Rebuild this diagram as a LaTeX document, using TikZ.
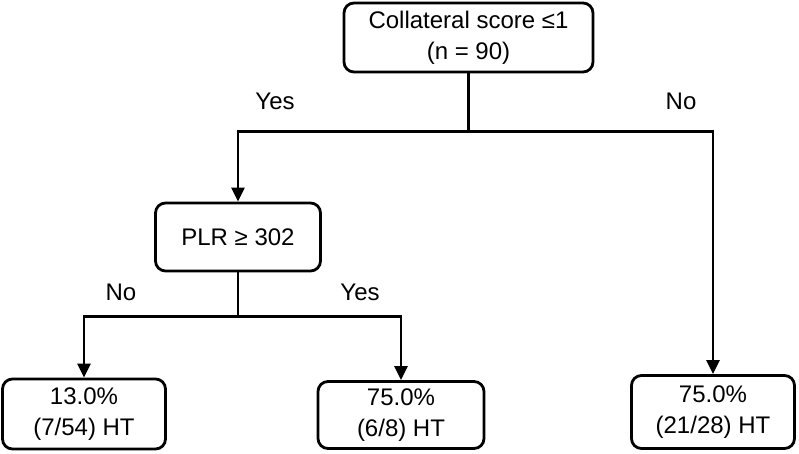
\documentclass[tikz,border=0pt]{standalone}
\usepackage{fontspec}
\setmainfont{Liberation Sans}
\usetikzlibrary{arrows.meta}

\tikzset{
  box/.style={draw, line width=2.8pt, rounded corners=10pt, align=center,
    inner sep=0pt, font=\fontsize{24}{31}\selectfont},
  conn/.style={line width=2.8pt},
  arr/.style={conn, -{Triangle[length=14pt,width=13pt]}},
  lbl/.style={font=\fontsize{24}{30}\selectfont}
}

\begin{document}
\begin{tikzpicture}[x=1pt, y=-1pt]
  \useasboundingbox (0,0) rectangle (799,453);

  % Root split
  \node[box, minimum width=249pt, minimum height=69pt] (root) at (468.5,37.5)
    {Collateral score ≤1\\(n = 90)};

  % Second split
  \node[box, minimum width=165pt, minimum height=68pt] (plr) at (238,237) {PLR ≥ 302};

  % Leaves
  \node[box, minimum width=163pt, minimum height=70pt] (leafa) at (84,414)
    {13.0\%\\(7/54) HT};
  \node[box, minimum width=166pt, minimum height=67pt] (leafb) at (401,415)
    {75.0\%\\(6/8) HT};
  \node[box, minimum width=163pt, minimum height=73pt] (leafc) at (713,412)
    {75.0\%\\(21/28) HT};

  % Connectors from root
  \draw[conn] (root.south) -- ++(0,58) coordinate (fork1);
  \draw[arr] (fork1) -| (plr.north);
  \draw[arr] (fork1) -| (leafc.north);

  % Connectors from PLR
  \draw[conn] (plr.south) -- ++(0,44) coordinate (fork2);
  \draw[arr] (fork2) -| (leafa.north);
  \draw[arr] (fork2) -| (leafb.north);

  % Branch labels
  \node[lbl] (yes1) at (275,101) {Yes};
  \node[lbl] (no1) at (681,101) {No};
  \node[lbl] (no2) at (121,292) {No};
  \node[lbl] (yes2) at (360,292) {Yes};
\end{tikzpicture}
\end{document}
